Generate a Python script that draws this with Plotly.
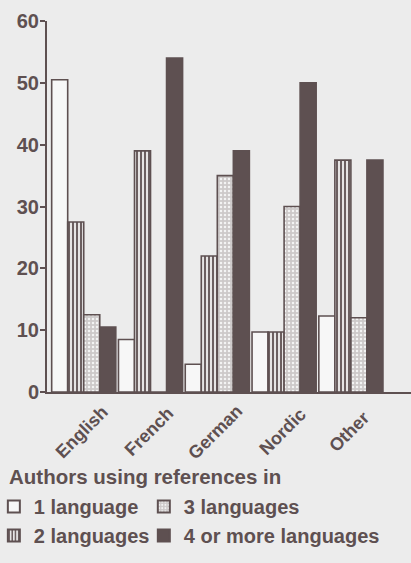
import plotly.graph_objects as go

categories = ["English", "French", "German", "Nordic", "Other"]
series_names = ["1 language", "2 languages", "3 languages", "4 or more languages"]
one_language = [50.5, 8.5, 4.5, 9.7, 12.3]
two_languages = [27.5, 39, 22, 9.7, 37.5]
three_languages = [12.5, 0, 35, 30, 12]
four_languages = [10.5, 54, 39, 50, 37.5]
y_ticks = [0, 10, 20, 30, 40, 50, 60]
legend_title = "Authors using references in"

INK = "#5e5051"
BG = "#ececec"
FONT = "Liberation Sans, Arial, sans-serif"

fig = go.Figure()
fig.add_trace(go.Bar(
    name=series_names[0], x=categories, y=one_language, legend="legend",
    marker=dict(color="#f7f7f7", line=dict(color=INK, width=1.6)),
))
fig.add_trace(go.Bar(
    name=series_names[1], x=categories, y=two_languages, legend="legend",
    marker=dict(color="#e6e4e4", line=dict(color=INK, width=1.6),
                pattern=dict(shape="|", fgcolor=INK, bgcolor="#e6e4e4",
                             size=4, solidity=0.45, fillmode="replace")),
))
fig.add_trace(go.Bar(
    name=series_names[2], x=categories, y=three_languages, legend="legend2",
    marker=dict(color="#cdc9c9", line=dict(color=INK, width=1.6),
                pattern=dict(shape=".", fgcolor="#f4f4f4", bgcolor="#cdc9c9",
                             size=4, solidity=0.3, fillmode="replace")),
))
fig.add_trace(go.Bar(
    name=series_names[3], x=categories, y=four_languages, legend="legend2",
    marker=dict(color=INK, line=dict(color=INK, width=1.6)),
))

annotations = []
for c in categories:
    annotations.append(dict(
        x=c, xref="x", y=-0.107, yref="paper", text=c, showarrow=False,
        textangle=-45, xanchor="center", yanchor="middle", xshift=-2,
        font=dict(family=FONT, size=18, color=INK, weight="bold"),
    ))
annotations.append(dict(
    x=-0.11, xref="paper", y=-0.229, yref="paper", text=legend_title,
    showarrow=False, xanchor="left", yanchor="middle",
    font=dict(family=FONT, size=20.5, color=INK, weight="bold"),
))

legend_common = dict(
    orientation="v", xanchor="left", yanchor="top", yref="paper", xref="paper",
    font=dict(family=FONT, size=20, color=INK, weight="bold"),
    bgcolor="rgba(0,0,0,0)", tracegroupgap=0, itemsizing="constant",
    traceorder="normal",
)

fig.update_layout(
    width=411, height=563,
    margin=dict(l=47, r=0, t=21, b=171, autoexpand=False),
    paper_bgcolor=BG, plot_bgcolor=BG,
    barmode="group", bargap=0.04, bargroupgap=0,
    font=dict(family=FONT, size=20, color=INK, weight="bold"),
    showlegend=True,
    legend=dict(x=-0.146, y=-0.256, **legend_common),
    legend2=dict(x=0.266, y=-0.256, **legend_common),
    annotations=annotations,
    xaxis=dict(
        type="category", range=[-0.55, 4.9], showline=True, linecolor=INK,
        linewidth=2, ticks="", showticklabels=False, showgrid=False,
        zeroline=False, automargin=False,
    ),
    yaxis=dict(
        range=[0, 60], tickvals=y_ticks, ticktext=[str(v) for v in y_ticks],
        showline=True, linecolor=INK, linewidth=2, ticks="outside", ticklen=5,
        tickwidth=2, tickcolor=INK, showgrid=False, zeroline=False,
        automargin=False, ticklabelstandoff=-3,
        tickfont=dict(family=FONT, size=20, color=INK, weight="bold"),
    ),
)

fig.write_html(
    "out.html",
    config={"displayModeBar": False},
    post_script="document.body.style.margin='0px';document.body.style.overflow='hidden';",
)
